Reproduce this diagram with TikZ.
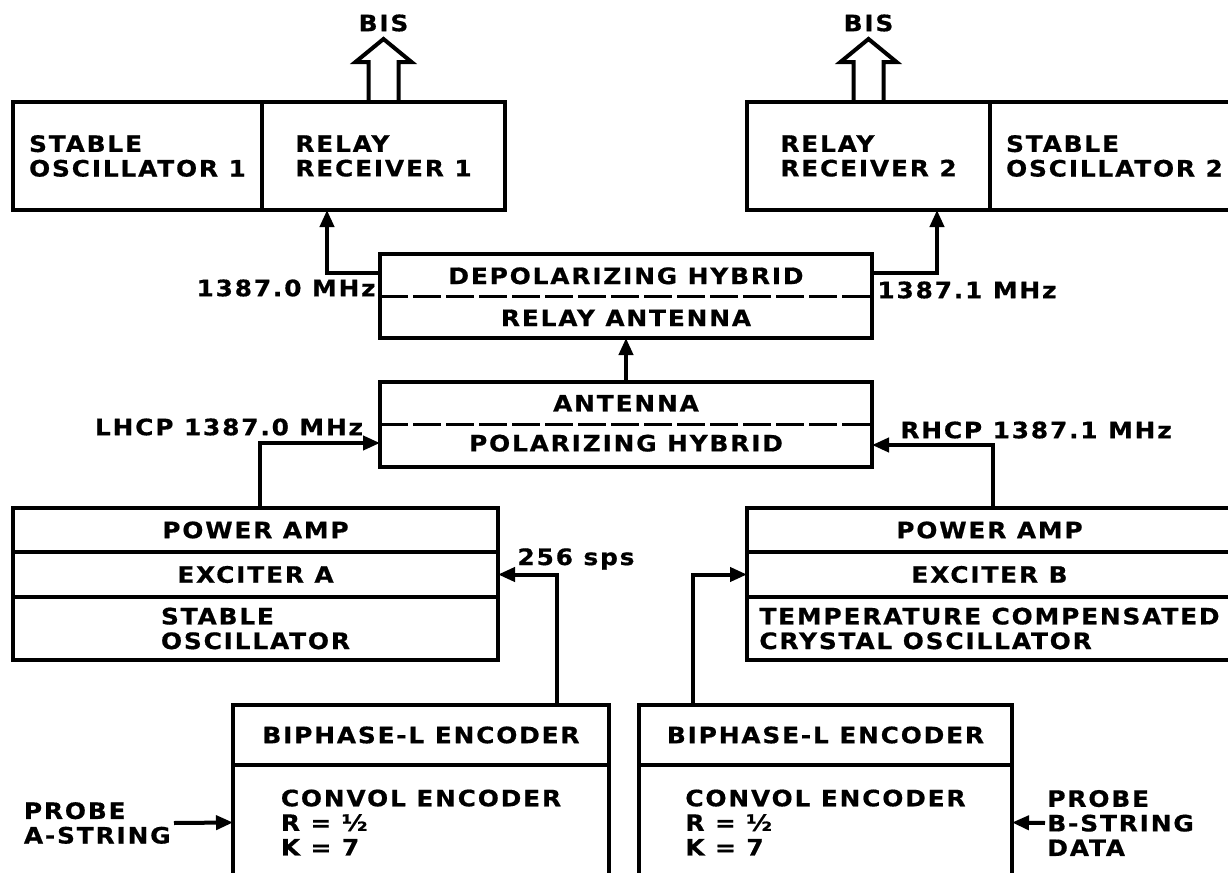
\documentclass[tikz,border=0pt]{standalone}
\usepackage{fontspec}
\setmainfont{DejaVu Sans}[FakeStretch=1.1,LetterSpace=8,BoldFeatures={FakeBold=0.6}]
\usetikzlibrary{arrows.meta, positioning, calc}
\newcommand\lblfont{\fontsize{11.3}{12.3}\selectfont\bfseries}
\tikzset{
  cell/.style={rectangle,draw,line width=1.8pt,inner sep=0pt,outer sep=0pt,align=left,font=\lblfont},
  frame/.style={rectangle,draw,line width=1.8pt,inner sep=0pt,outer sep=0pt},
  txt/.style={inner sep=0pt,align=left,font=\lblfont},
  divider/.style={line width=1.5pt,dash pattern=on 14pt off 2.5pt},
  line/.style={line width=2pt,-{Triangle[length=8.5pt,width=7pt]}},
  bus/.style={line width=2pt,line join=miter}
}

\begin{document}
\begin{tikzpicture}[x=0.5pt,y=-0.5pt]
\clip (0,0) rectangle (1228,873);
\node[cell,minimum width=124.5pt,minimum height=54pt] (osc1) at (137.5,156) {STABLE\\OSCILLATOR 1};
\node[cell,minimum width=121.5pt,minimum height=54pt,right=0pt of osc1] (rx1) {RELAY\\RECEIVER 1};
\node[cell,minimum width=121.5pt,minimum height=54pt] (rx2) at (868.5,156) {RELAY\\RECEIVER 2};
\node[cell,minimum width=124.5pt,minimum height=54pt,right=0pt of rx2] (osc2) {STABLE\\OSCILLATOR 2};

\node[frame,minimum width=246pt,minimum height=42pt] (hyb1) at (626,296) {};
\node[txt] (depol) at ($(hyb1.north)!0.26!(hyb1.south)$) {DEPOLARIZING HYBRID};
\node[txt] (relant) at ($(hyb1.north)!0.76!(hyb1.south)$) {RELAY ANTENNA};
\draw[divider] (hyb1.west) -- (hyb1.east);

\node[frame,minimum width=246pt,minimum height=42.5pt] (ant) at (626,424.5) {};
\node[txt] (antenna) at ($(ant.north)!0.25!(ant.south)$) {ANTENNA};
\node[txt] (polar) at ($(ant.north)!0.72!(ant.south)$) {POLARIZING HYBRID};
\draw[divider] (ant.west) -- (ant.east);

\node[cell,minimum width=242.5pt,minimum height=22pt] (pa1) at (255.5,530) {POWER AMP};
\node[cell,minimum width=242.5pt,minimum height=22.5pt,below=0pt of pa1] (exa) {EXCITER A};
\node[cell,minimum width=242.5pt,minimum height=31.5pt,below=0pt of exa] (so1) {STABLE\\OSCILLATOR};
\node[cell,minimum width=242.5pt,minimum height=22pt] (pa2) at (989.5,530) {POWER AMP};
\node[cell,minimum width=242.5pt,minimum height=22.5pt,below=0pt of pa2] (exb) {EXCITER B};
\node[cell,minimum width=242.5pt,minimum height=31.5pt,below=0pt of exb] (tcxo) {TEMPERATURE COMPENSATED\\CRYSTAL OSCILLATOR};

\node[cell,minimum width=188pt,minimum height=30pt] (bip1) at (421,735) {BIPHASE-L ENCODER};
\node[cell,minimum width=188pt,minimum height=57.5pt,below=0pt of bip1] (conv1) {CONVOL ENCODER\\R = ½\\K = 7};
\node[cell,minimum width=186.5pt,minimum height=30pt] (bip2) at (825.5,735) {BIPHASE-L ENCODER};
\node[cell,minimum width=186.5pt,minimum height=57.5pt,below=0pt of bip2] (conv2) {CONVOL ENCODER\\R = ½\\K = 7};

\node[txt] (bis1) at ([yshift=39.5pt]rx1.north) {BIS};
\node[txt] (bis2) at ([yshift=39.5pt]rx2.north) {BIS};
\node[txt,anchor=east] (f1) at (376,288) {1387.0 MHz};
\node[txt,anchor=west] (f2) at (877,290) {1387.1 MHz};
\node[txt] (lhcp) at (229,427) {LHCP 1387.0 MHz};
\node[txt] (rhcp) at (1036,430) {RHCP 1387.1 MHz};
\node[txt] (sps) at (576,559) {256 sps};
\node[txt,anchor=east] (pra) at (171,823) {PROBE\\A-STRING};
\node[txt,anchor=west] (prb) at (1047,823) {PROBE\\B-STRING\\DATA};

\draw[bus] ([xshift=-7.5pt]rx1.north) -- ++(0,-40) -- ++(-13,0) -- ++(28,-23) -- ++(28,23) -- ++(-13,0) -- ++(0,40);
\draw[bus] ([xshift=-7.5pt]rx2.north) -- ++(0,-40) -- ++(-13,0) -- ++(28,-23) -- ++(28,23) -- ++(-13,0) -- ++(0,40);

\draw[line] ([yshift=11.5pt]hyb1.west) -| ([xshift=-28.25pt]rx1.south);
\draw[line] ([yshift=11.5pt]hyb1.east) -| ([xshift=34.25pt]rx2.south);
\draw[line] (ant.north) -- (hyb1.south);
\draw[line] ([xshift=2pt]pa1.north) |- ([yshift=-9.25pt]ant.west);
\draw[line] ([xshift=1.75pt]pa2.north) |- ([yshift=-10.25pt]ant.east);
\draw[line] ([xshift=68pt]bip1.north) |- (exa.east);
\draw[line] ([xshift=-66.25pt]bip2.north) |- (exb.west);
\draw[line] ([xshift=1.5pt]pra.east) -- (conv1.west);
\draw[line] ([xshift=-1pt]prb.west) -- (conv2.east);
\end{tikzpicture}
\end{document}
